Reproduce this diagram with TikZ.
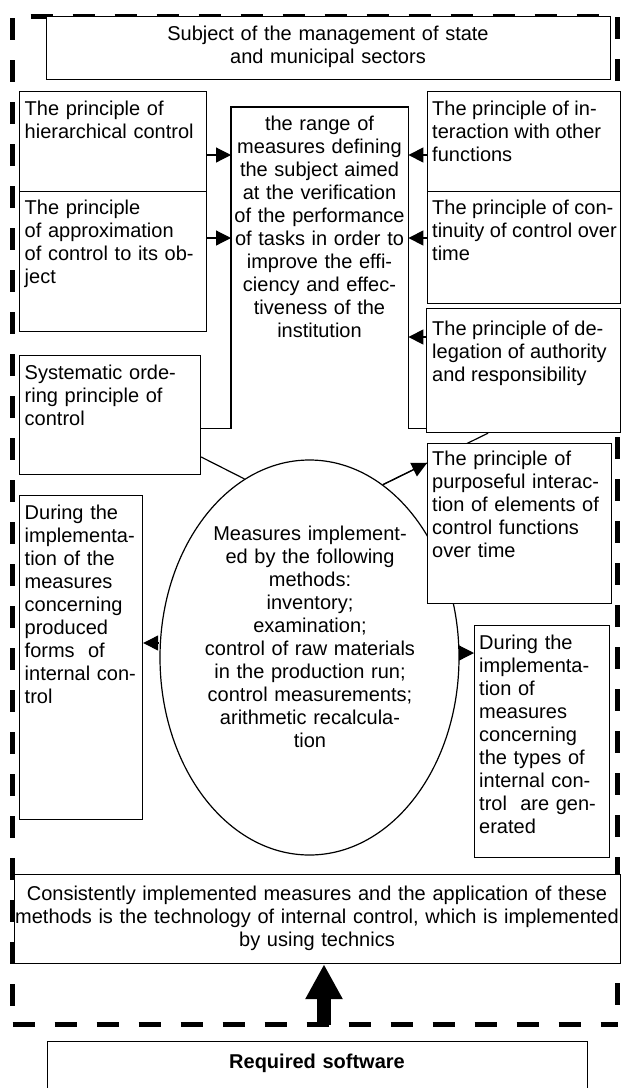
\documentclass[tikz,border=0pt]{standalone}
\usepackage{fontspec}
\setmainfont{Liberation Sans}
\usetikzlibrary{arrows.meta,shapes.geometric,calc}
\begin{document}
\begin{tikzpicture}[x=1pt,y=-1pt,
  frame/.style={draw,line width=1.2pt,fill=white,rectangle,inner sep=0pt,anchor=north west},
  txt/.style={font=\fontsize{20}{23}\selectfont,inner sep=0pt,align=left,anchor=north west},
  ctxt/.style={font=\fontsize{20}{23}\selectfont,inner sep=0pt,align=center,anchor=north},
  arr/.style={line width=1.2pt,-{Triangle[length=15pt,width=15pt]}},
  fdash/.style={line width=5pt,dash pattern=on 22pt off 20pt}]
\useasboundingbox (0,0) rectangle (621,1088);
% dashed outer frame
\draw[fdash,dash phase=24pt] (12.5,16) -- (617.5,16);
\draw[fdash,dash phase=40pt] (12.5,16) -- (12.5,1024.5);
\draw[fdash,dash phase=41pt] (617.5,16) -- (617.5,1024.5);
\draw[fdash,dash phase=0pt] (12.5,1024.5) -- (617.5,1024.5);
% level coordinates
\coordinate (y155) at (0,155);
\coordinate (y238) at (0,238);
\coordinate (y337) at (0,337);
\coordinate (y457) at (0,457);
\coordinate (y463) at (0,463);
\coordinate (y643) at (0,643);
\coordinate (y653) at (0,653);
% central box (open at the bottom)
\node[inner sep=0pt,anchor=north west,minimum width=177pt,minimum height=321pt] (cbox) at (231,107) {};
% ellipse
\node[draw,ellipse,line width=1.2pt,inner sep=0pt,minimum width=299pt,minimum height=395pt] (el) at (309.5,657.5) {};
% boxes
\node[frame,minimum width=564pt,minimum height=63pt] (top) at (46,16) {};
\node[frame,minimum width=187pt,minimum height=100pt] (b1) at (19,91) {};
\node[frame,minimum width=187pt,minimum height=140pt] (b2) at (19,191) {};
\node[frame,minimum width=181pt,minimum height=119pt] (sys) at (19,355) {};
\node[frame,minimum width=123pt,minimum height=324pt] (lb) at (19,495) {};
\node[frame,minimum width=193pt,minimum height=100pt] (r1) at (427,91) {};
\node[frame,minimum width=193pt,minimum height=112pt] (r2) at (427,191) {};
\node[frame,minimum width=194pt,minimum height=124pt] (r3) at (426,308) {};
\draw[line width=1.2pt] (sys.east |- cbox.south) -- (cbox.south west) -- (cbox.north west) -- (cbox.north east) -- (cbox.south east) -- (r3.west |- cbox.south);
\draw[line width=1.2pt] (sys.east |- y457) -- (el.110);
\coordinate (dl) at ($(r3.south west)+(62,0)$);
\draw[line width=1.2pt] (el.67) -- (dl);
\node[frame,minimum width=184pt,minimum height=160pt] (pb) at (427,443) {};
\node[frame,minimum width=135pt,minimum height=232pt] (rb) at (474,625) {};
\node[frame,minimum width=606pt,minimum height=89pt] (bb) at (14,874) {};
\begin{scope}
\clip (0,0) rectangle (621,1088);
\node[frame,minimum width=540pt,minimum height=60pt] (sw) at (47,1041) {};
\end{scope}
% texts
\node[ctxt,text width=500pt] (ttop) at (328,23.9) {\strut Subject of the management of state\\and municipal sectors};
\node[txt,text width=178pt] (tb1) at (24.5,98.9) {\strut The principle of\\hierarchical control};
\node[txt,text width=178pt] (tb2) at (24.5,197.9) {\strut The principle\\of approximation\\of control to its ob-\\ject};
\node[ctxt,text width=172pt] (tc) at (319.5,113.9) {\strut the range of\\measures defining\\the subject aimed\\at the verification\\of the performance\\of tasks in order to\\improve the effi-\\ciency and effec-\\tiveness of the\\institution};
\node[txt] (tr1) at (432,98.9) {\strut The principle of in-\\teraction with other\\functions};
\node[txt] (tr2) at (432,197.9) {\strut The principle of con-\\tinuity of control over\\time};
\node[txt] (tr3) at (432,318.9) {\strut The principle of de-\\legation of authority\\and responsibility};
\node[txt,text width=172pt] (tsys) at (24.5,362.9) {\strut Systematic orde-\\ring principle of\\control};
\node[txt,text width=176pt] (tpb) at (432,448.9) {\strut The principle of\\purposeful interac-\\tion of elements of\\control functions\\over time};
\node[txt,text width=116pt] (tlb) at (24.5,502.9) {\strut During the\\implementa-\\tion of the\\measures\\concerning\\produced\\forms\ \ of\\internal con-\\trol};
\node[ctxt,text width=225pt] (tel) at (310,523.9) {\strut Measures implement-\\ed by the following\\methods:\\inventory;\\examination;\\control of raw materials\\in the production run;\\control measurements;\\arithmetic recalcula-\\tion};
\node[txt,text width=127pt] (trb) at (479,632.9) {\strut During the\\implementa-\\tion of\\measures\\concerning\\the types of\\internal con-\\trol\ \ are gen-\\erated};
\node[ctxt,text width=604pt] (tbb) at (317,883.9) {\strut Consistently implemented measures and the application of these\\methods is the technology of internal control, which is implemented\\by using technics};
\node[ctxt,text width=500pt,font=\fontsize{20}{23}\selectfont\bfseries] (tsw) at (317,1051.9) {\strut Required software};
% arrows
\draw[arr] (b1.east |- y155) -- (cbox.west |- y155);
\draw[arr] (b2.east |- y238) -- (cbox.west |- y238);
\draw[arr] (r1.west |- y155) -- (cbox.east |- y155);
\draw[arr] (r2.west |- y238) -- (cbox.east |- y238);
\draw[arr] (r3.west |- y337) -- (cbox.east |- y337);
\draw[arr] (el.67) -- (pb.west |- y463);
\draw[arr] (el.west |- y643) -- (lb.east |- y643);
\draw[arr] (el.east |- y653) -- (rb.west |- y653);
% thick arrow
\coordinate (fb) at (324,1024.5);
\draw[line width=14pt,-{Triangle[length=35pt,width=35pt]}] (fb) -- (fb |- bb.south);
\end{tikzpicture}
\end{document}
